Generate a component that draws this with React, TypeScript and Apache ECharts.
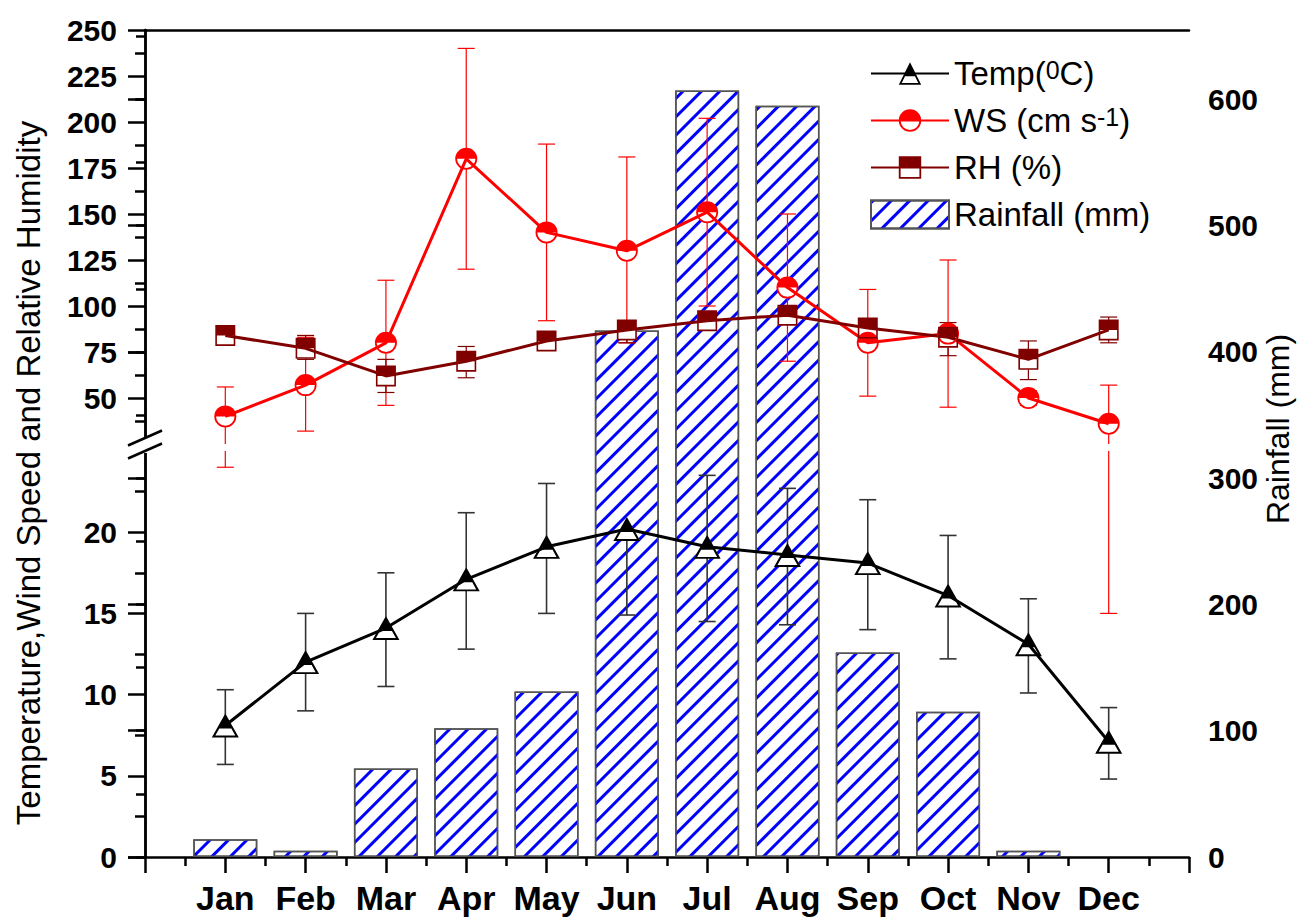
import React, { useEffect, useRef } from 'react';
import * as echarts from 'echarts';

const months = ['Jan', 'Feb', 'Mar', 'Apr', 'May', 'Jun', 'Jul', 'Aug', 'Sep', 'Oct', 'Nov', 'Dec'];
const rainfall = [14, 5, 70, 102, 131, 417, 607, 595, 162, 115, 5, 0];
const tempMean = [8.1, 12.0, 14.1, 17.1, 19.1, 20.2, 19.1, 18.6, 18.1, 16.1, 13.1, 7.1];
const tempHigh: (number | null)[] = [10.3, 15.0, 17.5, 21.2, 23.0, null, 23.5, 22.7, 22.0, 19.8, 15.9, 9.2];
const tempLow = [5.7, 9.0, 10.5, 12.8, 15.0, 14.9, 14.5, 14.3, 14.0, 12.2, 10.1, 4.8];
const wsMean = [40, 57, 80, 180, 140, 130, 151, 110, 80, 85, 50, 36];
const wsHigh = [56, 83, 114, 240, 188, 181, 202, 150, 109, 125, 54, 57];
const wsLow = [24, 32, 46, 120, 92, 80, 100, 70, 51, 45, 46, 15];
const rhMean = [84, 77, 62, 70, 81, 87, 92, 95, 88, 83, 71, 87];
const rhHigh = [86, 84, 71, 78, 83, 89, 94, 97, 90, 91, 81, 94];
const rhLow = [82, 71, 53, 61, 79, 80, 90, 93, 86, 73, 60, 80];
const rainTicksMajor = [0, 100, 200, 300, 400, 500, 600];
const rainTicksMinor = [0, 50, 100, 150, 200, 250, 300, 350, 400, 450, 500, 550, 600, 650];

const FONT = "'Liberation Sans', Arial, sans-serif";
const AXIS_W = 2.5;

const SYM_TRI =
  'path://M10 0L16.25 12.5L3.75 12.5Z M3.75 12.5L0 20L20 20L16.25 12.5L14.46 12.5L17.41 18.4L2.59 18.4L5.54 12.5Z';
const SYM_CIRC = 'path://M0 10A10 10 0 0 1 20 10Z M0 10A10 10 0 0 0 20 10L18.4 10A8.4 8.4 0 0 1 1.6 10Z';
const SYM_SQ = 'path://M0 0L20 0L20 10L0 10Z M0 10L0 20L20 20L20 10L18.4 10L18.4 18.4L1.6 18.4L1.6 10Z';

function errRender(capHalf: number, color: string, width: number) {
  return (params: any, api: any) => {
    const cs = params.coordSys;
    const top = cs.y;
    const bottom = cs.y + cs.height;
    const x = api.value(0);
    const m = api.value(1);
    const pm = api.coord([x, m]);
    const clamp = (y: number) => Math.min(bottom, Math.max(top, y));
    const children: any[] = [];
    [2, 3].forEach((dim) => {
      const v = api.value(dim);
      if (v == null || isNaN(v)) return;
      const pv = api.coord([x, v]);
      const y0 = clamp(pm[1]);
      const y1 = clamp(pv[1]);
      if (Math.abs(y1 - y0) < 0.5) return;
      children.push({
        type: 'line',
        shape: { x1: pm[0], y1: y0, x2: pm[0], y2: y1 },
        style: { stroke: color, lineWidth: width },
      });
      if (pv[1] >= top - 0.1 && pv[1] <= bottom + 0.1) {
        children.push({
          type: 'line',
          shape: { x1: pv[0] - capHalf, y1: pv[1], x2: pv[0] + capHalf, y2: pv[1] },
          style: { stroke: color, lineWidth: width },
        });
      }
    });
    return { type: 'group', children };
  };
}

const pts = (arr: number[]) => arr.map((v, i) => [i + 1, v]);
const barPts = (arr: number[]) => arr.map((v, i) => (v > 0 ? [i + 1, v] : [i + 1, '-']));
const errData = (mean: number[], hi: (number | null)[], lo: number[]) =>
  mean.map((v, i) => [i + 1, v, hi[i] == null ? '-' : hi[i], lo[i]]);

const axisLineStyle = { show: true, lineStyle: { color: '#000', width: AXIS_W } };

function buildOption(): any {
  const gridBox = { left: 145, right: 108 };
  const hatch = {
    symbol: 'rect',
    symbolSize: 1,
    color: '#0000ff',
    backgroundColor: '#ffffff',
    dashArrayX: [1, 0],
    dashArrayY: [3, 10],
    rotation: -Math.PI / 4,
  };
  return {
    animation: false,
    backgroundColor: '#ffffff',
    grid: [
      { ...gridBox, top: 30, bottom: 61 },
      { ...gridBox, top: 30, height: 414 },
      { ...gridBox, top: 451, bottom: 61 },
      { ...gridBox, top: 30, bottom: 61 },
    ],
    xAxis: [
      {
        gridIndex: 0,
        type: 'value',
        min: 0,
        max: 13,
        interval: 1,
        position: 'bottom',
        axisLine: axisLineStyle,
        axisTick: { show: true, inside: false, length: 16, lineStyle: { color: '#000', width: AXIS_W } },
        minorTick: { show: true, splitNumber: 2, length: 9, lineStyle: { color: '#000', width: AXIS_W } },
        axisLabel: {
          formatter: (v: number) => months[v - 1] || '',
          fontSize: 34,
          fontWeight: 'bold',
          fontFamily: FONT,
          color: '#000',
          margin: 24,
        },
        splitLine: { show: false },
        minorSplitLine: { show: false },
      },
      {
        gridIndex: 1,
        type: 'value',
        min: 0,
        max: 13,
        position: 'top',
        axisLine: axisLineStyle,
        axisTick: { show: false },
        axisLabel: { show: false },
        splitLine: { show: false },
      },
      { gridIndex: 2, type: 'value', min: 0, max: 13, show: false, splitLine: { show: false } },
      { gridIndex: 3, type: 'value', min: 0, max: 13, show: false, splitLine: { show: false } },
    ],
    yAxis: [
      {
        gridIndex: 0,
        type: 'value',
        position: 'right',
        min: 0,
        max: 655,
        interval: 50,
        axisLine: axisLineStyle,
        axisTick: {
          show: true,
          inside: true,
          length: 9,
          customValues: rainTicksMinor,
          lineStyle: { color: '#000', width: AXIS_W },
        },
        axisLabel: {
          formatter: (v: number) => (v % 100 === 0 && v <= 600 ? String(v) : ''),
          fontSize: 30,
          fontWeight: 'bold',
          fontFamily: FONT,
          color: '#000',
          margin: 19,
        },
        splitLine: { show: false },
      },
      {
        gridIndex: 1,
        type: 'value',
        position: 'left',
        min: 25,
        max: 250,
        interval: 25,
        axisLine: axisLineStyle,
        axisTick: { show: true, inside: false, length: 17, lineStyle: { color: '#000', width: AXIS_W } },
        minorTick: { show: true, splitNumber: 2, length: 10, lineStyle: { color: '#000', width: AXIS_W } },
        axisLabel: {
          formatter: (v: number) => (v >= 50 ? String(v) : ''),
          fontSize: 30,
          fontWeight: 'bold',
          fontFamily: FONT,
          color: '#000',
          margin: 28,
        },
        splitLine: { show: false },
        minorSplitLine: { show: false },
      },
      {
        gridIndex: 2,
        type: 'value',
        position: 'left',
        min: 0,
        max: 25,
        interval: 5,
        axisLine: axisLineStyle,
        axisTick: { show: true, inside: false, length: 17, lineStyle: { color: '#000', width: AXIS_W } },
        minorTick: { show: true, splitNumber: 2, length: 10, lineStyle: { color: '#000', width: AXIS_W } },
        axisLabel: {
          formatter: (v: number) => (v < 25 ? String(v) : ''),
          fontSize: 30,
          fontWeight: 'bold',
          fontFamily: FONT,
          color: '#000',
          margin: 28,
        },
        splitLine: { show: false },
        minorSplitLine: { show: false },
      },
      {
        gridIndex: 3,
        type: 'value',
        position: 'right',
        min: 0,
        max: 655,
        interval: 100,
        axisLine: { show: false },
        axisTick: {
          show: true,
          inside: true,
          length: 17,
          customValues: rainTicksMajor,
          lineStyle: { color: '#000', width: AXIS_W },
        },
        axisLabel: { show: false },
        splitLine: { show: false },
      },
    ],
    legend: {
      orient: 'vertical',
      left: 870,
      top: 57,
      padding: 0,
      itemWidth: 78,
      itemHeight: 28,
      itemGap: 14,
      data: [{ name: 'Temp' }, { name: 'WS' }, { name: 'RH' }, { name: 'Rainfall', icon: 'rect' }],
      formatter: (n: string) =>
        ({
          Temp: '{a|Temp(}{s|0}{a|C)}',
          WS: '{a|WS (cm s}{s|-1}{a|)}',
          RH: '{a|RH (%)}',
          Rainfall: '{a|Rainfall (mm)}',
        } as any)[n],
      textStyle: {
        color: '#000',
        fontFamily: FONT,
        fontSize: 32,
        rich: {
          a: { fontSize: 33, fontFamily: FONT, color: '#000' },
          s: { fontSize: 25, fontFamily: FONT, color: '#000', verticalAlign: 'top' },
        },
      },
    },
    series: [
      {
        name: 'Rainfall',
        type: 'bar',
        xAxisIndex: 0,
        yAxisIndex: 0,
        data: barPts(rainfall),
        barWidth: 64,
        itemStyle: { color: '#ffffff', borderColor: '#555', borderWidth: 1.5, decal: hatch },
        z: 1,
      },
      {
        name: '_tempErr',
        type: 'custom',
        xAxisIndex: 2,
        yAxisIndex: 2,
        renderItem: errRender(8.5, '#333', 1.6),
        data: errData(tempMean, tempHigh, tempLow),
        z: 2,
        silent: true,
      },
      {
        name: '_wsErrUp',
        type: 'custom',
        xAxisIndex: 1,
        yAxisIndex: 1,
        renderItem: errRender(8.5, '#ff0000', 1.2),
        data: errData(wsMean, wsHigh, wsLow),
        z: 2,
        silent: true,
      },
      {
        name: '_wsErrLow',
        type: 'custom',
        xAxisIndex: 2,
        yAxisIndex: 2,
        renderItem: errRender(8.5, '#ff0000', 1.2),
        data: errData(wsMean, wsHigh, wsLow),
        z: 2,
        silent: true,
      },
      {
        name: '_rhErr',
        type: 'custom',
        xAxisIndex: 1,
        yAxisIndex: 1,
        renderItem: errRender(8.5, '#800000', 1.2),
        data: errData(rhMean, rhHigh, rhLow),
        z: 2,
        silent: true,
      },
      {
        name: '_tempBg',
        type: 'scatter',
        xAxisIndex: 2,
        yAxisIndex: 2,
        symbol: 'triangle',
        symbolSize: [26, 23],
        itemStyle: { color: '#ffffff', opacity: 1 },
        data: pts(tempMean),
        z: 3,
        silent: true,
      },
      {
        name: '_wsBg',
        type: 'scatter',
        xAxisIndex: 1,
        yAxisIndex: 1,
        symbol: 'circle',
        symbolSize: 21,
        itemStyle: { color: '#ffffff', opacity: 1 },
        data: pts(wsMean),
        z: 3,
        silent: true,
      },
      {
        name: '_rhBg',
        type: 'scatter',
        xAxisIndex: 1,
        yAxisIndex: 1,
        symbol: 'rect',
        symbolSize: [19, 20],
        itemStyle: { color: '#ffffff', opacity: 1 },
        data: pts(rhMean),
        z: 3,
        silent: true,
      },
      {
        name: 'Temp',
        type: 'line',
        xAxisIndex: 2,
        yAxisIndex: 2,
        data: pts(tempMean),
        symbol: SYM_TRI,
        symbolSize: [27, 24],
        showSymbol: true,
        itemStyle: { color: '#000000', borderWidth: 0 },
        lineStyle: { color: '#000000', width: 3 },
        z: 4,
      },
      {
        name: 'WS',
        type: 'line',
        xAxisIndex: 1,
        yAxisIndex: 1,
        data: pts(wsMean),
        symbol: SYM_CIRC,
        symbolSize: 22,
        showSymbol: true,
        itemStyle: { color: '#ff0000' },
        lineStyle: { color: '#ff0000', width: 3 },
        z: 4,
      },
      {
        name: 'RH',
        type: 'line',
        xAxisIndex: 1,
        yAxisIndex: 1,
        data: pts(rhMean),
        symbol: SYM_SQ,
        symbolSize: [20, 21],
        showSymbol: true,
        itemStyle: { color: '#800000' },
        lineStyle: { color: '#800000', width: 3 },
        z: 4,
      },
    ],
    graphic: [
      { type: 'rect', shape: { x: 110, y: 438, width: 42, height: 15 }, style: { fill: '#ffffff' }, z: 100 },
      {
        type: 'line',
        shape: { x1: 128, y1: 445.5, x2: 162, y2: 430.5 },
        style: { stroke: '#000', lineWidth: 2.5 },
        z: 101,
      },
      {
        type: 'line',
        shape: { x1: 128, y1: 458.5, x2: 162, y2: 443.5 },
        style: { stroke: '#000', lineWidth: 2.5 },
        z: 101,
      },
      {
        type: 'text',
        x: 28,
        y: 473,
        rotation: Math.PI / 2,
        style: {
          text: 'Temperature,Wind Speed and Relative Humidity',
          fontSize: 33,
          fontFamily: FONT,
          fill: '#000',
          align: 'center',
          verticalAlign: 'middle',
        },
        z: 101,
      },
      {
        type: 'text',
        x: 1278,
        y: 429,
        rotation: Math.PI / 2,
        style: {
          text: 'Rainfall (mm)',
          fontSize: 32,
          fontFamily: FONT,
          fill: '#000',
          align: 'center',
          verticalAlign: 'middle',
        },
        z: 101,
      },
    ],
  };
}

export default function App() {
  const ref = useRef<HTMLDivElement>(null);
  useEffect(() => {
    if (!ref.current) return;
    const chart = echarts.init(ref.current, null, { renderer: 'svg' });
    chart.setOption(buildOption());
    return () => chart.dispose();
  }, []);
  return (
    <div
      ref={ref}
      style={{ position: 'fixed', left: 0, top: 0, width: 1297, height: 918, background: '#ffffff' }}
    />
  );
}
